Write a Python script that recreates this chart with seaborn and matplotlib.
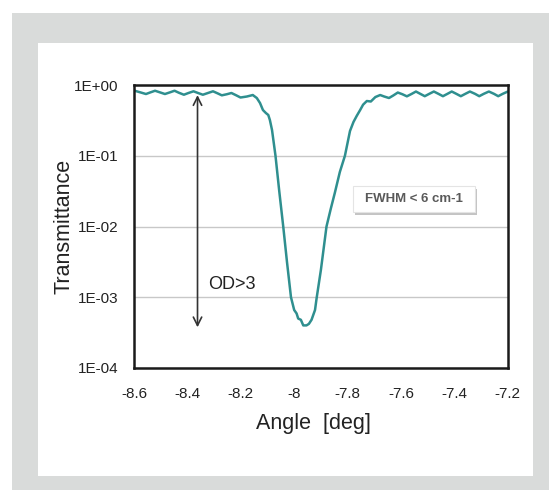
import numpy as np
import pandas as pd
import seaborn as sns
import matplotlib.pyplot as plt
from matplotlib.patches import Rectangle
from matplotlib.ticker import FuncFormatter, MultipleLocator, LogLocator, NullFormatter

# kąt [deg] i transmitancja
angle = [-8.600, -8.578, -8.555, -8.538, -8.521, -8.503, -8.484, -8.465, -8.448, -8.432,
         -8.413, -8.396, -8.377, -8.360, -8.342, -8.323, -8.304, -8.287, -8.271, -8.252,
         -8.235, -8.218, -8.201, -8.177, -8.155, -8.140, -8.128, -8.117, -8.106, -8.097,
         -8.091, -8.083, -8.070, -8.056, -8.041, -8.027, -8.012, -8.000, -7.991, -7.985,
         -7.975, -7.966, -7.954, -7.945, -7.935, -7.922, -7.916, -7.900, -7.879, -7.863,
         -7.848, -7.829, -7.810, -7.804, -7.791, -7.778, -7.766, -7.753, -7.742, -7.728,
         -7.713, -7.696, -7.678, -7.663, -7.645, -7.629, -7.612, -7.595, -7.578, -7.561,
         -7.544, -7.528, -7.511, -7.494, -7.477, -7.460, -7.443, -7.426, -7.410, -7.393,
         -7.376, -7.359, -7.342, -7.323, -7.307, -7.290, -7.271, -7.252, -7.236, -7.219,
         -7.200]
transmittance = [0.836, 0.791, 0.746, 0.788, 0.830, 0.788, 0.746, 0.788, 0.830, 0.778,
                 0.729, 0.771, 0.815, 0.771, 0.729, 0.771, 0.815, 0.763, 0.715, 0.741,
                 0.771, 0.718, 0.666, 0.688, 0.722, 0.655, 0.557, 0.443, 0.402, 0.377,
                 0.320, 0.231, 0.100, 0.0318, 0.0100, 0.00316, 0.00100, 0.00066, 0.00059, 0.00050,
                 0.00048, 0.00040, 0.00040, 0.00042, 0.00048, 0.00066, 0.00097, 0.00243, 0.0100, 0.0178,
                 0.0297, 0.059, 0.100, 0.129, 0.224, 0.300, 0.365, 0.443, 0.527, 0.594,
                 0.585, 0.676, 0.722, 0.688, 0.655, 0.711, 0.783, 0.741, 0.692, 0.746,
                 0.809, 0.751, 0.695, 0.751, 0.809, 0.751, 0.695, 0.751, 0.809, 0.751,
                 0.695, 0.751, 0.809, 0.751, 0.695, 0.751, 0.809, 0.751, 0.695, 0.751,
                 0.809]

x_ticks = [-8.6, -8.4, -8.2, -8.0, -7.8, -7.6, -7.4, -7.2]
y_ticks = [1e-4, 1e-3, 1e-2, 1e-1, 1e0]

od_arrow = (-8.362, 0.72, 3.76e-4)

data = pd.DataFrame({"angle": angle, "T": transmittance})

sns.set_style("white")
plt.rcParams['font.family'] = ['Liberation Sans', 'DejaVu Sans']

fig = plt.figure(figsize=(5.49, 4.9), dpi=100)
fig.add_artist(Rectangle((0.021, 0), 0.979, 0.9735, transform=fig.transFigure,
                         fc='#d9dbda', ec='none', zorder=-2))
fig.add_artist(Rectangle((0.0692, 0.0286), 0.9018, 0.8836, transform=fig.transFigure,
                         fc='white', ec='none', zorder=-1))

ax = fig.add_axes([0.244, 0.249, 0.681, 0.5775])
ax.set_facecolor('white')

sns.lineplot(x="angle", y="T", data=data, ax=ax, color='#2f8f8f', lw=1.8, estimator=None)

ax.set_yscale('log')
ax.set_ylim(1e-4, 1)
ax.set_xlim(-8.6, -7.2)
ax.set_yticks(y_ticks)
ax.yaxis.set_major_formatter(FuncFormatter(lambda v, p: f"{v:.0E}"))
ax.yaxis.set_minor_locator(LogLocator(base=10, subs=np.arange(2, 10)))
ax.yaxis.set_minor_formatter(NullFormatter())
ax.set_xticks(x_ticks)
ax.xaxis.set_major_formatter(FuncFormatter(lambda v, p: f"{v:g}"))
ax.xaxis.set_minor_locator(MultipleLocator(0.1))

ax.grid(axis='y', which='major', color='#c8c8c8', lw=1)
ax.tick_params(axis='y', which='major', direction='out', length=4, color='#aaaaaa',
               pad=7, labelsize=11, labelcolor='#222222')
ax.tick_params(axis='y', which='minor', direction='in', length=3, color='#cccccc')
ax.tick_params(axis='x', which='both', direction='in', length=4, color='#bbbbbb',
               pad=14, labelsize=11, labelcolor='#222222')

for s in ax.spines.values():
    s.set_color('#1a1a1a')
    s.set_linewidth(1.8)

ax.set_xlabel("Angle  [deg]", fontsize=15.5, color='#222222')
ax.set_ylabel("Transmittance", fontsize=15.5, color='#222222')
ax.xaxis.set_label_coords(0.481, -0.159)
ax.yaxis.set_label_coords(-0.159, 0.5)

ax.annotate('', xy=(od_arrow[0], od_arrow[2]), xytext=(od_arrow[0], od_arrow[1]),
            arrowprops=dict(arrowstyle='<->,head_length=0.6,head_width=0.3',
                            lw=1.2, color='#333333', shrinkA=0, shrinkB=0))
ax.text(-8.323, 1.49e-3, "OD>3", fontsize=13, color='#222222', ha='left', va='center')

# ramka z cieniem wokół opisu FWHM
t = ax.text(-7.55, 0.0241, "FWHM < 6 cm-1", fontsize=9.5, fontweight='bold', color='#5a5a5a',
            ha='center', va='center', zorder=5)
fig.canvas.draw()
bb = t.get_window_extent()
x0, y0 = bb.x0 - 12, bb.y0 - 7
w, h = bb.width + 24, bb.height + 14
fig.add_artist(Rectangle((x0 + 2, y0 - 3), w, h, transform=None,
                         fc='#c4c4c4', ec='none', zorder=3))
fig.add_artist(Rectangle((x0, y0), w, h, transform=None,
                         fc='white', ec='#e4e4e4', lw=0.8, zorder=4))
t.remove()
fig.text(bb.x0 + bb.width / 2, bb.y0 + bb.height / 2, "FWHM < 6 cm-1", fontsize=9.5,
         fontweight='bold', color='#5a5a5a', ha='center', va='center',
         transform=None, zorder=6)

fig.savefig("out.png", dpi=100)
